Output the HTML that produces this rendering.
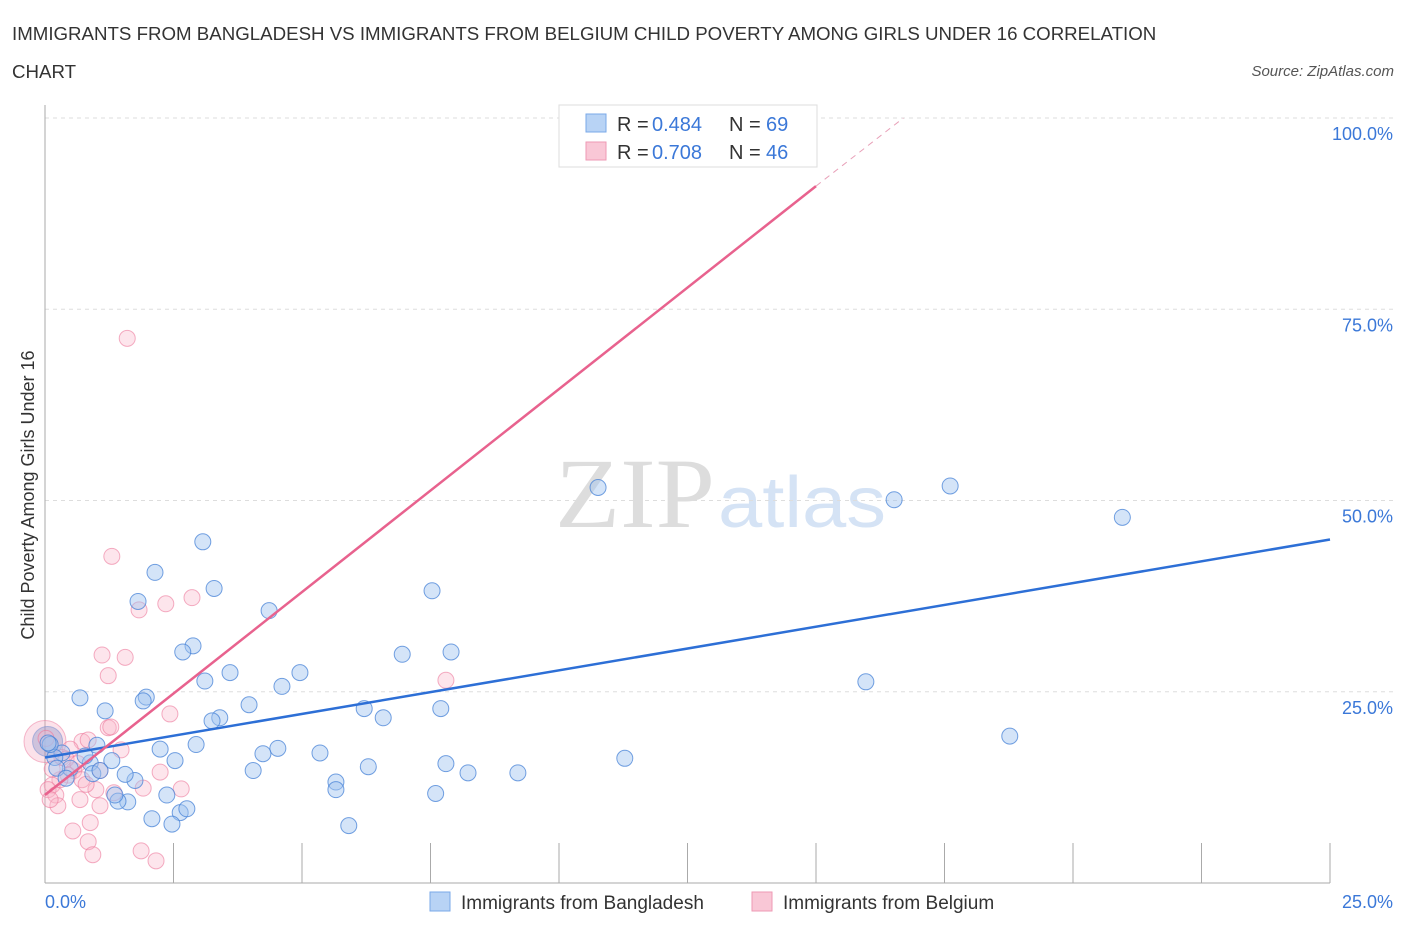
<!DOCTYPE html>
<html><head><meta charset="utf-8"><style>
body{margin:0;background:#fff;font-family:"Liberation Sans",sans-serif;}
svg text{font-family:"Liberation Sans",sans-serif;}
</style></head><body>
<svg id="chart" width="1406" height="930" xmlns="http://www.w3.org/2000/svg">
<text x="12" y="40" font-size="18.7" fill="#333">IMMIGRANTS FROM BANGLADESH VS IMMIGRANTS FROM BELGIUM CHILD POVERTY AMONG GIRLS UNDER 16 CORRELATION</text>
<text x="12" y="78" font-size="18.7" fill="#333">CHART</text>
<text x="1394" y="76" font-size="15" fill="#555" font-style="italic" text-anchor="end">Source: ZipAtlas.com</text>
<text x="715" y="527" font-size="100" fill="#ddd" text-anchor="end" style="font-family:'Liberation Serif',serif" textLength="160" lengthAdjust="spacingAndGlyphs">ZIP</text>
<text x="718" y="527" font-size="72" fill="#d5e3f5" textLength="168" lengthAdjust="spacingAndGlyphs">atlas</text>
<text x="34" y="495" font-size="18" fill="#333" text-anchor="middle" transform="rotate(-90 34 495)">Child Poverty Among Girls Under 16</text>
<g id="grid"></g><g id="marks"></g>
<g>
<rect x="559" y="105" width="258" height="62" fill="#fff" stroke="#ddd"/>
<rect x="586" y="114" width="20" height="18" fill="#b8d3f5" stroke="#7aa8e8"/>
<rect x="586" y="142" width="20" height="18" fill="#f9c7d6" stroke="#ee9ab4"/>
<text x="617" y="131" font-size="20" fill="#333">R = </text><text x="652" y="131" font-size="20" fill="#3b78d8">0.484</text>
<text x="729" y="131" font-size="20" fill="#333">N = </text><text x="766" y="131" font-size="20" fill="#3b78d8">69</text>
<text x="617" y="159" font-size="20" fill="#333">R = </text><text x="652" y="159" font-size="20" fill="#3b78d8">0.708</text>
<text x="729" y="159" font-size="20" fill="#333">N = </text><text x="766" y="159" font-size="20" fill="#3b78d8">46</text>
</g>
<g>
<rect x="430" y="892" width="20" height="19" fill="#b8d3f5" stroke="#7aa8e8"/>
<text x="461" y="909" font-size="19" fill="#333">Immigrants from Bangladesh</text>
<rect x="752" y="892" width="20" height="19" fill="#f9c7d6" stroke="#ee9ab4"/>
<text x="783" y="909" font-size="19" fill="#333">Immigrants from Belgium</text>
</g>
</svg>
<script>
const blueX=[10.76,16.52,17.61,20.96,15.97,18.77,11.28,9.2,8.23,7.8,7.6,7.7,7.9,7.53,6.95,6.58,6.21,6.29,5.66,5.66,5.91,5.35,4.96,4.61,4.53,4.24,4.05,3.97,3.6,3.4,3.25,3.11,3.29,3.07,2.88,2.68,4.36,2.14,1.81,1.97,1.91,2.24,2.53,2.94,2.63,2.47,2.76,2.37,2.08,1.61,1.42,1.75,1.56,1.3,1.17,0.68,1.01,0.88,0.93,0.49,0.33,0.19,0.1,0.06,0.23,0.41,0.78,1.07,1.36];
const blueY=[51.7,50.1,51.9,47.8,26.3,19.2,16.3,14.4,14.4,15.6,11.7,22.8,30.2,38.2,29.9,21.6,22.8,15.2,13.2,12.2,7.5,17.0,27.5,25.7,17.6,16.9,14.7,23.3,27.5,21.6,21.2,26.4,38.5,44.6,31.0,30.2,35.6,40.6,36.8,24.3,23.8,17.5,16.0,18.1,9.2,7.7,9.7,11.5,8.4,10.6,10.7,13.4,14.2,16.0,22.5,24.2,18.0,15.7,14.3,15.0,17.0,16.4,18.1,18.3,15.0,13.7,16.6,14.7,11.5];
const pinkX=[14.38,1.6,1.3,2.35,2.86,1.83,1.11,1.56,1.23,7.8,2.43,1.23,1.28,1.48,0.72,0.84,0.49,0.33,0.56,0.45,0.29,0.14,0.06,0.21,0.72,0.99,1.07,0.25,0.68,1.91,2.65,2.24,0.88,0.54,0.84,0.93,1.87,2.16,0.02,0.14,0.41,0.64,0.8,1.34,1.07,0.1];
const pinkY=[100,71.2,42.7,36.5,37.3,35.7,29.8,29.5,27.1,26.5,22.1,20.3,20.4,17.4,18.5,18.7,17.5,16.4,14.7,14.1,13.5,12.8,12.2,11.5,13.5,12.2,10.1,10.1,10.9,12.4,12.3,14.5,7.9,6.8,5.4,3.7,4.2,2.9,18.9,14.9,16.2,15.6,12.9,11.8,14.7,10.9];
const yTicks=[25,50,75,100], yTickLabels=["25.0%","50.0%","75.0%","100.0%"];
const xTickVals=[0,2.5,5,7.5,10,12.5,15,17.5,20,22.5,25];
const blueLine=[[0,16.4],[25,44.9]];
const pinkLine=[[0,11.5],[15,91.1]];
const pinkDash=[[15,91.1],[16.7,100]];
const NS="http://www.w3.org/2000/svg";
const X=v=>45+v*51.4, Y=v=>883-v*7.65;
function mk(t,a,p){const e=document.createElementNS(NS,t);for(const k in a)e.setAttribute(k,a[k]);p.appendChild(e);return e;}
const g=document.getElementById('grid'), m=document.getElementById('marks');
yTicks.forEach((v,i)=>{
 const l=mk('line',{x1:45,x2:1394,y1:Y(v),y2:Y(v),stroke:'#ddd','stroke-dasharray':'4,4'},g);
 
 
 const t=mk('text',{x:1393,y:Y(v)+22,'font-size':18,fill:'#3b78d8','text-anchor':'end'},g);t.textContent=yTickLabels[i];
 
 
});
mk('line',{x1:45,x2:45,y1:105,y2:883,stroke:'#aaa'},g);
mk('line',{x1:45,x2:1330,y1:883,y2:883,stroke:'#aaa'},g);
xTickVals.forEach(v=>{const l=mk('line',{x1:X(v),x2:X(v),y1:843,y2:883,stroke:'#aaa'},g);
 
 });
let t=mk('text',{x:45,y:908,'font-size':18,fill:'#3b78d8'},g);t.textContent='0.0%';


t=mk('text',{x:1393,y:908,'font-size':18,fill:'#3b78d8','text-anchor':'end'},g);t.textContent='25.0%';


mk('circle',{cx:X(0),cy:Y(18.5),r:21,fill:'rgba(244,160,185,0.3)',stroke:'rgba(236,120,155,0.5)'},m);
mk('circle',{cx:X(0.05),cy:Y(18.5),r:15,fill:'rgba(140,150,200,0.4)',stroke:'rgba(110,140,210,0.5)'},m);
pinkX.forEach((x,i)=>{const c=mk('circle',{cx:X(x),cy:Y(pinkY[i]),r:8,fill:'rgba(248,180,200,0.35)',stroke:'rgba(236,120,155,0.6)'},m);
 
 });
blueX.forEach((x,i)=>{const c=mk('circle',{cx:X(x),cy:Y(blueY[i]),r:8,fill:'rgba(160,195,240,0.45)',stroke:'rgba(70,130,215,0.75)'},m);
 
 });
let l=mk('line',{x1:X(blueLine[0][0]),y1:Y(blueLine[0][1]),x2:X(blueLine[1][0]),y2:Y(blueLine[1][1]),stroke:'#2d6fd6','stroke-width':2.5},m);


l=mk('line',{x1:X(pinkLine[0][0]),y1:Y(pinkLine[0][1]),x2:X(pinkLine[1][0]),y2:Y(pinkLine[1][1]),stroke:'#e8628e','stroke-width':2.5},m);


l=mk('line',{x1:X(pinkDash[0][0]),y1:Y(pinkDash[0][1]),x2:X(pinkDash[1][0]),y2:Y(pinkDash[1][1]),stroke:'#e8a0b8','stroke-width':1,'stroke-dasharray':'6,5'},m);


</script>
</body></html>
